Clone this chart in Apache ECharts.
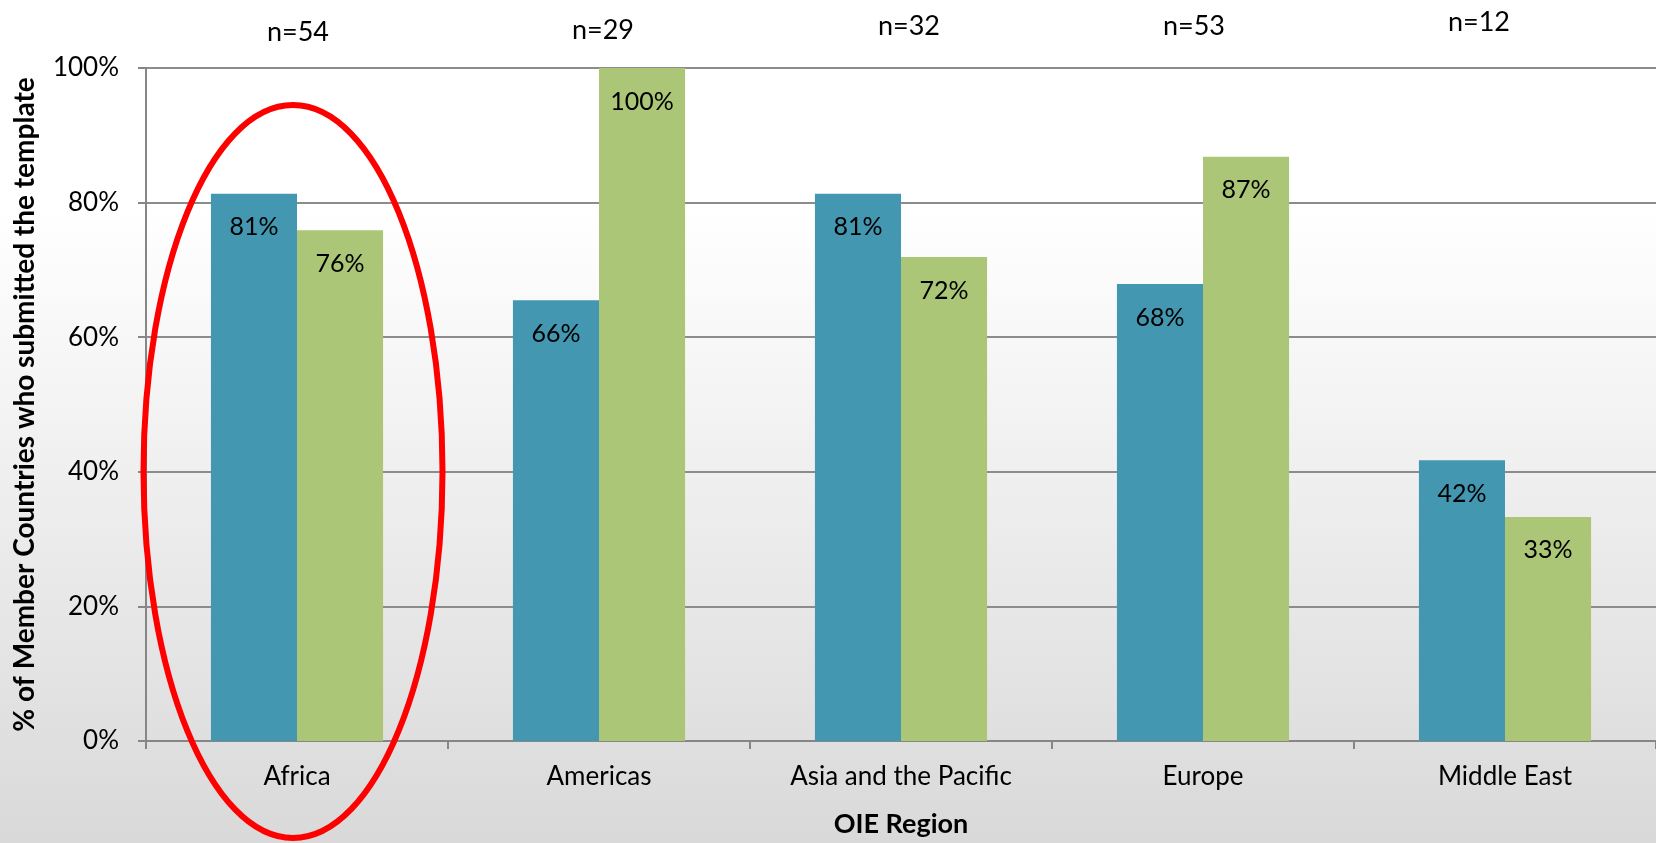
<!DOCTYPE html>
<html><head><meta charset="utf-8">
<script src="https://cdn.jsdelivr.net/npm/echarts@6/dist/echarts.min.js"></script>
<style>html,body{margin:0;padding:0;}#c{width:1656px;height:843px;}</style>
</head><body><div id="c"></div>
<script>
const categories = ['Africa','Americas','Asia and the Pacific','Europe','Middle East'];
const seriesA = [81.3, 65.5, 81.3, 67.9, 41.7];
const seriesB = [75.9, 100, 71.9, 86.8, 33.3];
const nLabels = ['n=54','n=29','n=32','n=53','n=12'];
const yTicks = [0,20,40,60,80,100];

const FONT = 'Lato';
const chart = echarts.init(document.getElementById('c'));
const nPos = [[298,32],[603,30],[909,26],[1194,26],[1479,22]];
chart.setOption({
  animation:false,
  backgroundColor:{type:'linear',x:0,y:0,x2:0,y2:1,colorStops:[{offset:0,color:'#ffffff'},{offset:0.25,color:'#ffffff'},{offset:1,color:'#d9d9d9'}]},
  grid:{left:146,top:68,width:1525,height:678},
  xAxis:{type:'category',data:categories,
    name:'OIE Region',nameLocation:'middle',nameGap:70,
    nameTextStyle:{fontFamily:FONT,fontWeight:'bold',fontSize:27,color:'#000'},
    axisLine:{lineStyle:{color:'#868686',width:2}},
    axisTick:{show:true,length:8,lineStyle:{color:'#868686',width:2}},
    axisLabel:{fontFamily:FONT,fontSize:26,color:'#000',margin:23}},
  yAxis:{type:'value',min:0,max:100,interval:20,
    name:'% of Member Countries who submitted the template',nameLocation:'middle',nameGap:107,
    nameTextStyle:{fontFamily:FONT,fontWeight:'bold',fontSize:28,color:'#000'},
    axisLine:{show:true,lineStyle:{color:'#868686',width:2}},
    axisTick:{show:true,length:8,lineStyle:{color:'#868686',width:2}},
    splitLine:{lineStyle:{color:'#8c8c8c',width:2}},
    axisLabel:{fontFamily:FONT,fontSize:26,color:'#000',margin:27,formatter:v=>v+'%'}},
  series:[
    {type:'bar',data:seriesA,barGap:'0%',barCategoryGap:'43%',
     itemStyle:{color:'#4397b0'},
     label:{show:true,position:'insideTop',distance:21,fontFamily:FONT,fontSize:25,color:'#000',formatter:p=>Math.round(p.value)+'%'}},
    {type:'bar',data:seriesB,
     itemStyle:{color:'#abc677'},
     label:{show:true,position:'insideTop',distance:21,fontFamily:FONT,fontSize:25,color:'#000',formatter:p=>Math.round(p.value)+'%'}}
  ],
  graphic:[
    ...nLabels.map((t,i)=>({type:'text',x:nPos[i][0],y:nPos[i][1],style:{text:t,fontFamily:FONT,fontSize:27,fill:'#000',align:'center',verticalAlign:'middle'}})),
    {type:'ellipse',shape:{cx:293,cy:471.5,rx:149.5,ry:366.5},style:{fill:'none',stroke:'#ff0000',lineWidth:6},z:100}
  ]
});
</script></body></html>
